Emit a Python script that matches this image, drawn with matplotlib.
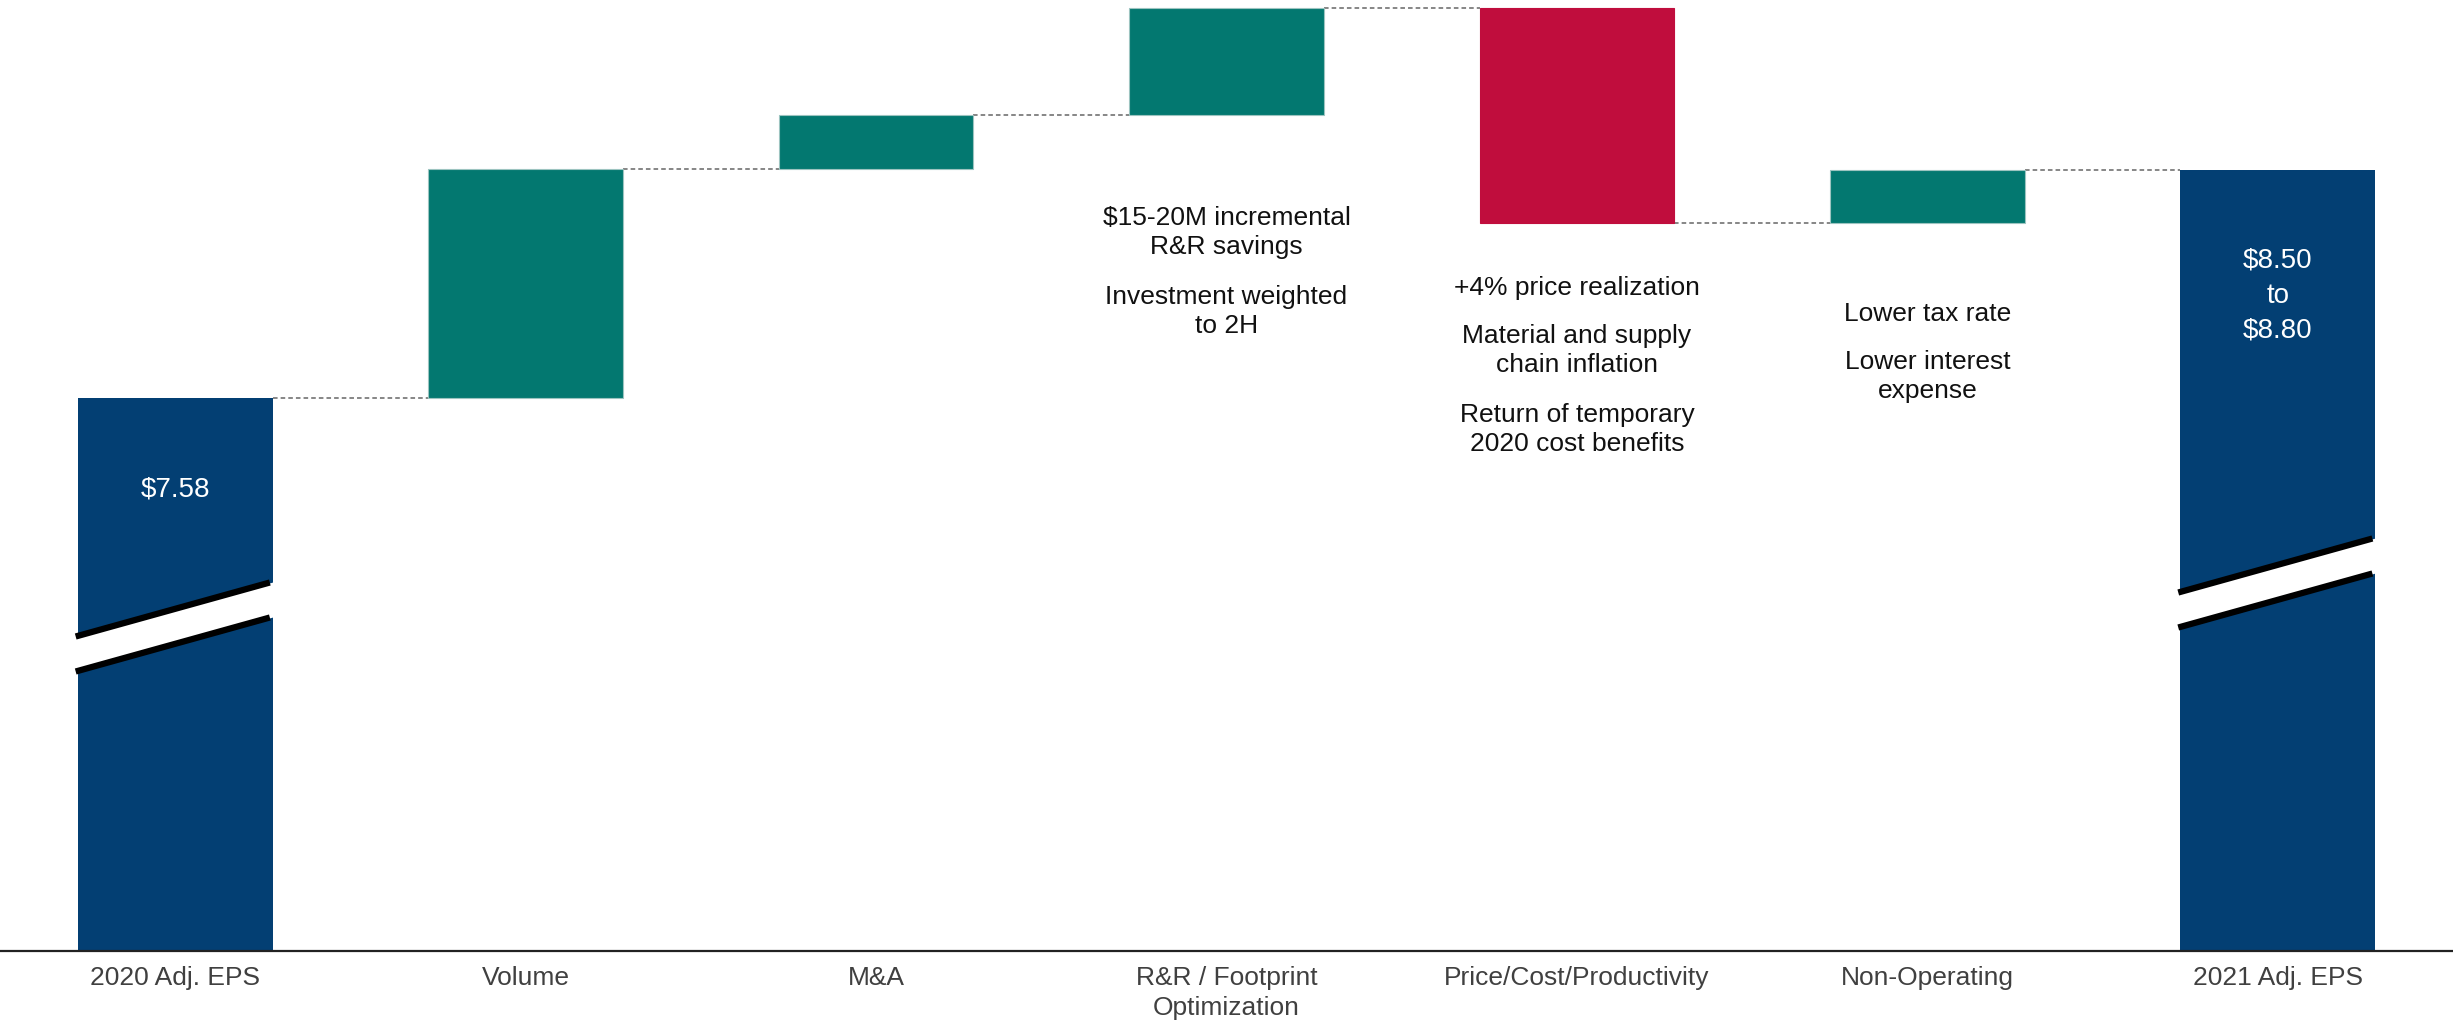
import matplotlib.pyplot as plt
from matplotlib.patches import Polygon

plt.rcParams['font.family'] = ['Liberation Sans', 'DejaVu Sans']

# EPS bridge, heights in relative units (chart is drawn with a broken axis)
categories = ["2020 Adj. EPS", "Volume", "M&A", "R&R / Footprint\nOptimization",
              "Price/Cost/Productivity", "Non-Operating", "2021 Adj. EPS"]
start_value = 5.53
steps = [2.29, 0.54, 1.07, -2.15, 0.53]
start_label = "$7.58"
end_label = "$8.50\nto\n$8.80"

notes = {
    3: ["$15-20M incremental\nR&R savings", "Investment weighted\nto 2H"],
    4: ["+4% price realization", "Material and supply\nchain inflation",
        "Return of temporary\n2020 cost benefits"],
    5: ["Lower tax rate", "Lower interest\nexpense"],
}

NAVY = '#033f73'
TEAL = '#037870'
RED = '#c00d3d'
width = 0.556

fig = plt.figure(figsize=(24.53, 10.30), dpi=100)
ax = fig.add_axes([0, 1 - 951 / 1030, 1, 951 / 1030])
ax.set_xlim(-0.5, len(categories) - 0.5)
ax.set_ylim(0, 9.51)

# running totals for the floating bars
end_value = start_value + sum(steps)
levels = [start_value]
for s in steps:
    levels.append(levels[-1] + s)

ax.bar(0, start_value, width=width, color=NAVY, zorder=2)
ax.bar(len(categories) - 1, end_value, width=width, color=NAVY, zorder=2)
for i, s in enumerate(steps, start=1):
    bottom = levels[i - 1] if s > 0 else levels[i]
    ax.bar(i, abs(s), bottom=bottom, width=width,
           color=TEAL if s > 0 else RED,
           edgecolor='#9cc4c0' if s > 0 else RED, linewidth=0.8, zorder=2)

# dashed connectors between neighbouring bars
for i, lvl in enumerate(levels):
    ax.plot([i + width / 2, i + 1 - width / 2], [lvl, lvl],
            color='#666666', lw=1.1, ls=(0, (3, 2)), zorder=1)

# axis-break marks on the two total bars
def draw_break(x, y_mid):
    half = width / 2
    rise = 0.54 / 2
    gap = 0.35 / 2
    x0, x1 = x - half - 0.006, x + half - 0.008
    band = Polygon([(x0, y_mid - rise - gap), (x1 + 0.01, y_mid + rise - gap),
                    (x1 + 0.01, y_mid + rise + gap), (x0, y_mid - rise + gap)],
                   closed=True, facecolor='white', edgecolor='none', zorder=3)
    ax.add_patch(band)
    for off in (gap, -gap):
        ax.plot([x0, x1], [y_mid - rise + off, y_mid + rise + off],
                color='black', lw=4.5, solid_capstyle='butt', zorder=4)

draw_break(0, 3.24)
draw_break(len(categories) - 1, 3.68)

# values inside the total bars
ax.text(0, 4.61, start_label, color='white', fontsize=20,
        ha='center', va='center', zorder=5)
ax.text(len(categories) - 1, 6.55, end_label, color='white', fontsize=20,
        ha='center', va='center', linespacing=1.45, zorder=5)

# driver commentary under the bars
note_tops = {3: 7.45, 4: 6.75, 5: 6.49}
for idx, paras in notes.items():
    y = note_tops[idx]
    for p in paras:
        nlines = p.count('\n') + 1
        ax.text(idx, y, p, fontsize=19, ha='center', va='top',
                color='#111111', linespacing=1.28)
        y -= (nlines * 0.31) + 0.17

ax.set_xticks(range(len(categories)))
ax.set_xticklabels(categories, fontsize=19, color='#404040', linespacing=1.3)
ax.tick_params(axis='x', length=0, pad=11)
ax.set_yticks([])
for side in ('top', 'right', 'left'):
    ax.spines[side].set_visible(False)
ax.spines['bottom'].set_color('#222222')
ax.spines['bottom'].set_linewidth(1.6)

fig.savefig('out.png', dpi=100)
